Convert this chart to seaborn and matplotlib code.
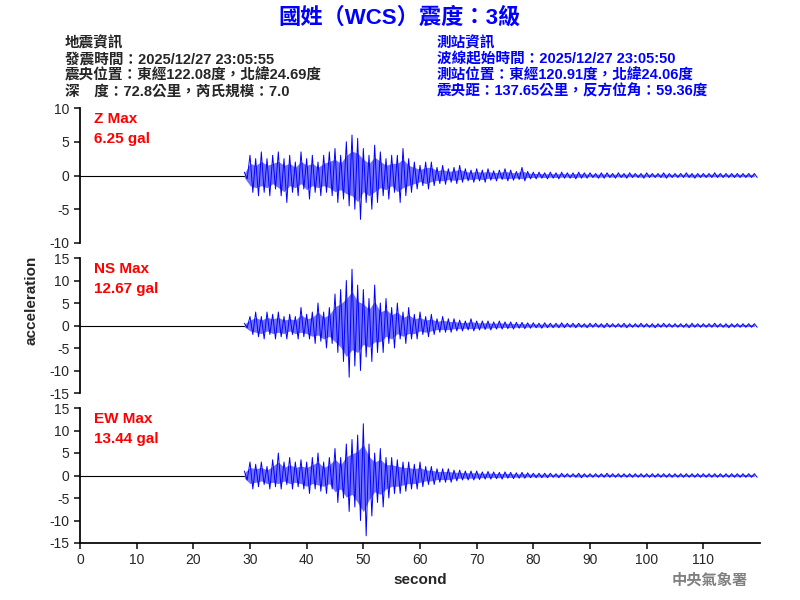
import matplotlib
matplotlib.use("Agg")
import matplotlib.pyplot as plt
import pandas as pd
import seaborn as sns

sns.set_theme(style="white")
plt.rcParams["font.family"] = ["Liberation Sans", "Noto Sans CJK TC", "DejaVu Sans"]
plt.rcParams["axes.unicode_minus"] = False

# seconds 29..119, one upper and one lower swing per second
start_sec = 29
z_hi = [0.5, 3, 2.5, 3.5, 2.5, 3, 3.5, 2.5, 3, 2, 3.5, 2.5, 3, 2, 3, 3.5, 4, 3, 5, 6,
        5.5, 4, 3, 4.5, 3.5, 2.5, 3, 3, 4, 2.5, 2, 1.5, 2, 2, 1.2, 1.5, 1, 1.2, 1.5, 1, 0.8,
        1, 0.8, 1, 0.7, 0.8, 1, 0.8, 0.6, 1.2, 0.6, 0.5, 0.5, 0.4, 0.5, 0.4, 0.5, 0.4, 0.4, 0.5, 0.4,
        0.4, 0.3, 0.4, 0.4, 0.3, 0.4, 0.3, 0.4, 0.3, 0.3, 0.4, 0.3, 0.3, 0.4, 0.3, 0.3, 0.3, 0.4, 0.3, 0.3,
        0.3, 0.3, 0.4, 0.3, 0.3, 0.3, 0.3, 0.3, 0.3, 0.3]
z_lo = [-0.5, -2.5, -3, -2.5, -3, -2, -3, -4, -2.5, -3, -2, -3.5, -2.5, -3, -2.5, -3, -4, -3.5, -4.5, -5,
        -6.5, -4, -5, -4, -3, -3.5, -2.5, -4, -3, -2.5, -2, -1.5, -2, -1.5, -1.2, -1.3, -1, -1.2, -1, -0.8, -1,
        -0.8, -1, -0.7, -0.8, -0.6, -0.8, -0.7, -0.6, -0.8, -0.5, -0.5, -0.4, -0.5, -0.4, -0.5, -0.4, -0.4, -0.5, -0.4, -0.4,
        -0.3, -0.4, -0.4, -0.3, -0.4, -0.3, -0.4, -0.3, -0.3, -0.4, -0.3, -0.3, -0.3, -0.4, -0.3, -0.3, -0.3, -0.3, -0.4, -0.3,
        -0.3, -0.3, -0.3, -0.3, -0.3, -0.3, -0.3, -0.3, -0.3, -0.3]
ns_hi = [0.5, 2, 3, 2, 3, 2.5, 3, 2, 2.5, 2, 4, 2.5, 3, 5, 3, 4, 7, 8, 10, 12.5,
         9, 8, 6, 9, 5, 6, 4, 5, 3, 4, 2.5, 3, 2, 2.5, 1.5, 2, 1.5, 1.5, 1.2, 1, 1.5,
         1, 1, 1, 0.8, 1, 0.8, 0.8, 0.7, 0.7, 0.6, 0.6, 0.5, 0.6, 0.5, 0.5, 0.6, 0.5, 0.5, 0.5, 0.4,
         0.5, 0.5, 0.4, 0.5, 0.4, 0.4, 0.5, 0.4, 0.4, 0.5, 0.4, 0.4, 0.4, 0.5, 0.4, 0.4, 0.4, 0.4, 0.5, 0.4,
         0.4, 0.4, 0.5, 0.4, 0.4, 0.4, 0.4, 0.4, 0.4, 0.4]
ns_lo = [-0.5, -2, -2.5, -3, -2, -3, -2.5, -3, -2, -3, -2.5, -3, -4, -3.5, -5, -4, -6, -8, -11.5, -9,
         -10, -7, -8, -6, -6, -4, -5, -3, -4, -3, -3, -2, -2.5, -2, -1.5, -1.5, -1.5, -1.2, -1.2, -1, -1.2,
         -1, -0.9, -1, -0.8, -0.8, -0.7, -0.8, -0.6, -0.7, -0.6, -0.5, -0.6, -0.5, -0.5, -0.5, -0.5, -0.4, -0.5, -0.4, -0.5,
         -0.4, -0.4, -0.5, -0.4, -0.4, -0.4, -0.5, -0.4, -0.4, -0.4, -0.4, -0.5, -0.4, -0.4, -0.4, -0.4, -0.4, -0.5, -0.4, -0.4,
         -0.4, -0.4, -0.4, -0.4, -0.5, -0.4, -0.4, -0.4, -0.4, -0.4]
ew_hi = [1, 3, 2.5, 3, 2, 3.5, 5, 3, 4, 3, 3.5, 3, 4, 5, 3, 4, 6, 4, 7, 8,
         9, 11.5, 7, 5, 6, 4, 4, 3.5, 3, 3, 2.5, 3, 2, 2, 1.5, 1.5, 1.5, 1.2, 1.2, 1, 1,
         1, 0.8, 0.9, 0.8, 0.7, 0.8, 0.7, 0.6, 0.7, 0.6, 0.5, 0.5, 0.5, 0.5, 0.4, 0.5, 0.4, 0.4, 0.5, 0.4,
         0.4, 0.4, 0.4, 0.5, 0.4, 0.4, 0.4, 0.4, 0.4, 0.4, 0.4, 0.4, 0.4, 0.4, 0.4, 0.4, 0.4, 0.4, 0.4, 0.4,
         0.4, 0.4, 0.4, 0.4, 0.4, 0.4, 0.4, 0.4, 0.4, 0.4]
ew_lo = [-1, -3, -2.5, -2, -3, -2.5, -3, -2, -3, -2.5, -3, -4, -3, -3.5, -4, -3, -6, -5, -8, -7,
         -10, -13.4, -9, -6, -7, -5, -4, -4, -3.5, -3, -3, -2.5, -2, -2, -1.5, -1.5, -1.5, -1.2, -1, -1, -1,
         -0.9, -0.8, -0.8, -0.7, -0.8, -0.6, -0.7, -0.6, -0.6, -0.5, -0.5, -0.5, -0.5, -0.4, -0.5, -0.4, -0.4, -0.4, -0.5, -0.4,
         -0.4, -0.4, -0.4, -0.4, -0.4, -0.4, -0.4, -0.4, -0.4, -0.4, -0.4, -0.4, -0.4, -0.4, -0.4, -0.4, -0.4, -0.4, -0.4, -0.4,
         -0.4, -0.4, -0.4, -0.4, -0.4, -0.4, -0.4, -0.4, -0.4, -0.4]

channels = ["Z", "NS", "EW"]
max_gal = ["6.25", "12.67", "13.44"]
y_limits = [10, 15, 15]
y_ticks = [[-10, -5, 0, 5, 10], [-15, -10, -5, 0, 5, 10, 15], [-15, -10, -5, 0, 5, 10, 15]]
x_ticks = list(range(0, 120, 10))

header_left = ["地震資訊", "發震時間：2025/12/27 23:05:55",
               "震央位置：東經122.08度，北緯24.69度", "深　度：72.8公里，芮氏規模：7.0"]
header_right = ["測站資訊", "波線起始時間：2025/12/27 23:05:50",
                "測站位置：東經120.91度，北緯24.06度", "震央距：137.65公里，反方位角：59.36度"]


def trace_frame(hi, lo):
    assert len(hi) == len(lo) == 91
    xs, ys = [], []
    for i, (h, l) in enumerate(zip(hi, lo)):
        xs += [start_sec + i, start_sec + i + 0.5]
        ys += [h, l]
    return pd.DataFrame({"t": xs, "a": ys})


fig = plt.figure(figsize=(8, 6), dpi=100)
bottoms = [0.595, 0.345, 0.095]
series = [(z_hi, z_lo), (ns_hi, ns_lo), (ew_hi, ew_lo)]
for k, (b, (hi, lo)) in enumerate(zip(bottoms, series)):
    ax = fig.add_axes([0.1, b, 0.85, 0.225])
    quiet = pd.DataFrame({"t": [0, start_sec], "a": [0, 0]})
    sns.lineplot(data=quiet, x="t", y="a", color="black", lw=0.8, ax=ax, estimator=None)
    # dense band of the shaking, then the swings on top
    secs = [start_sec + i for i in range(len(hi))]
    ax.fill_between(secs, [v * 0.6 for v in lo], [v * 0.6 for v in hi],
                    color="blue", alpha=0.55, lw=0)
    sns.lineplot(data=trace_frame(hi, lo), x="t", y="a", color="blue", lw=0.7,
                 ax=ax, estimator=None, sort=False)
    ax.set_xlim(0, 120)
    ax.set_ylim(-y_limits[k], y_limits[k])
    ax.set_yticks(y_ticks[k])
    ax.tick_params(axis="y", labelsize=10, length=4, left=True)
    for s in ["top", "right"]:
        ax.spines[s].set_visible(False)
    ax.spines["left"].set_color("black")
    ax.text(0.02, 0.97, f"{channels[k]} Max\n{max_gal[k]} gal", transform=ax.transAxes,
            color="red", fontsize=11, fontweight="bold", va="top", linespacing=1.5)
    ax.set_ylabel("")
    if k < 2:
        ax.spines["bottom"].set_visible(False)
        ax.set_xticks([])
        ax.set_xlabel("")
    else:
        ax.spines["bottom"].set_color("black")
        ax.set_xticks(x_ticks)
        ax.tick_params(axis="x", labelsize=10, length=4, bottom=True)
        ax.set_xlabel("second", fontsize=11, fontweight="bold")

fig.text(0.04, 0.5, "acceleration", rotation=90, ha="center", va="center",
         fontsize=11, fontweight="bold")
fig.text(0.5, 0.97, "國姓（WCS）震度：3級", color="blue", fontsize=16,
         fontweight="bold", ha="center", va="center")
for i, line in enumerate(header_left):
    fig.text(0.081, 0.928 - i * 0.027, line, fontsize=10.5, fontweight="bold", va="center")
for i, line in enumerate(header_right):
    fig.text(0.546, 0.928 - i * 0.027, line, fontsize=10.5, fontweight="bold",
             color="blue", va="center")
fig.text(0.935, 0.032, "中央氣象署", color="gray", fontsize=11, fontweight="bold",
         ha="right", va="center")

fig.savefig("out.png", dpi=100)
